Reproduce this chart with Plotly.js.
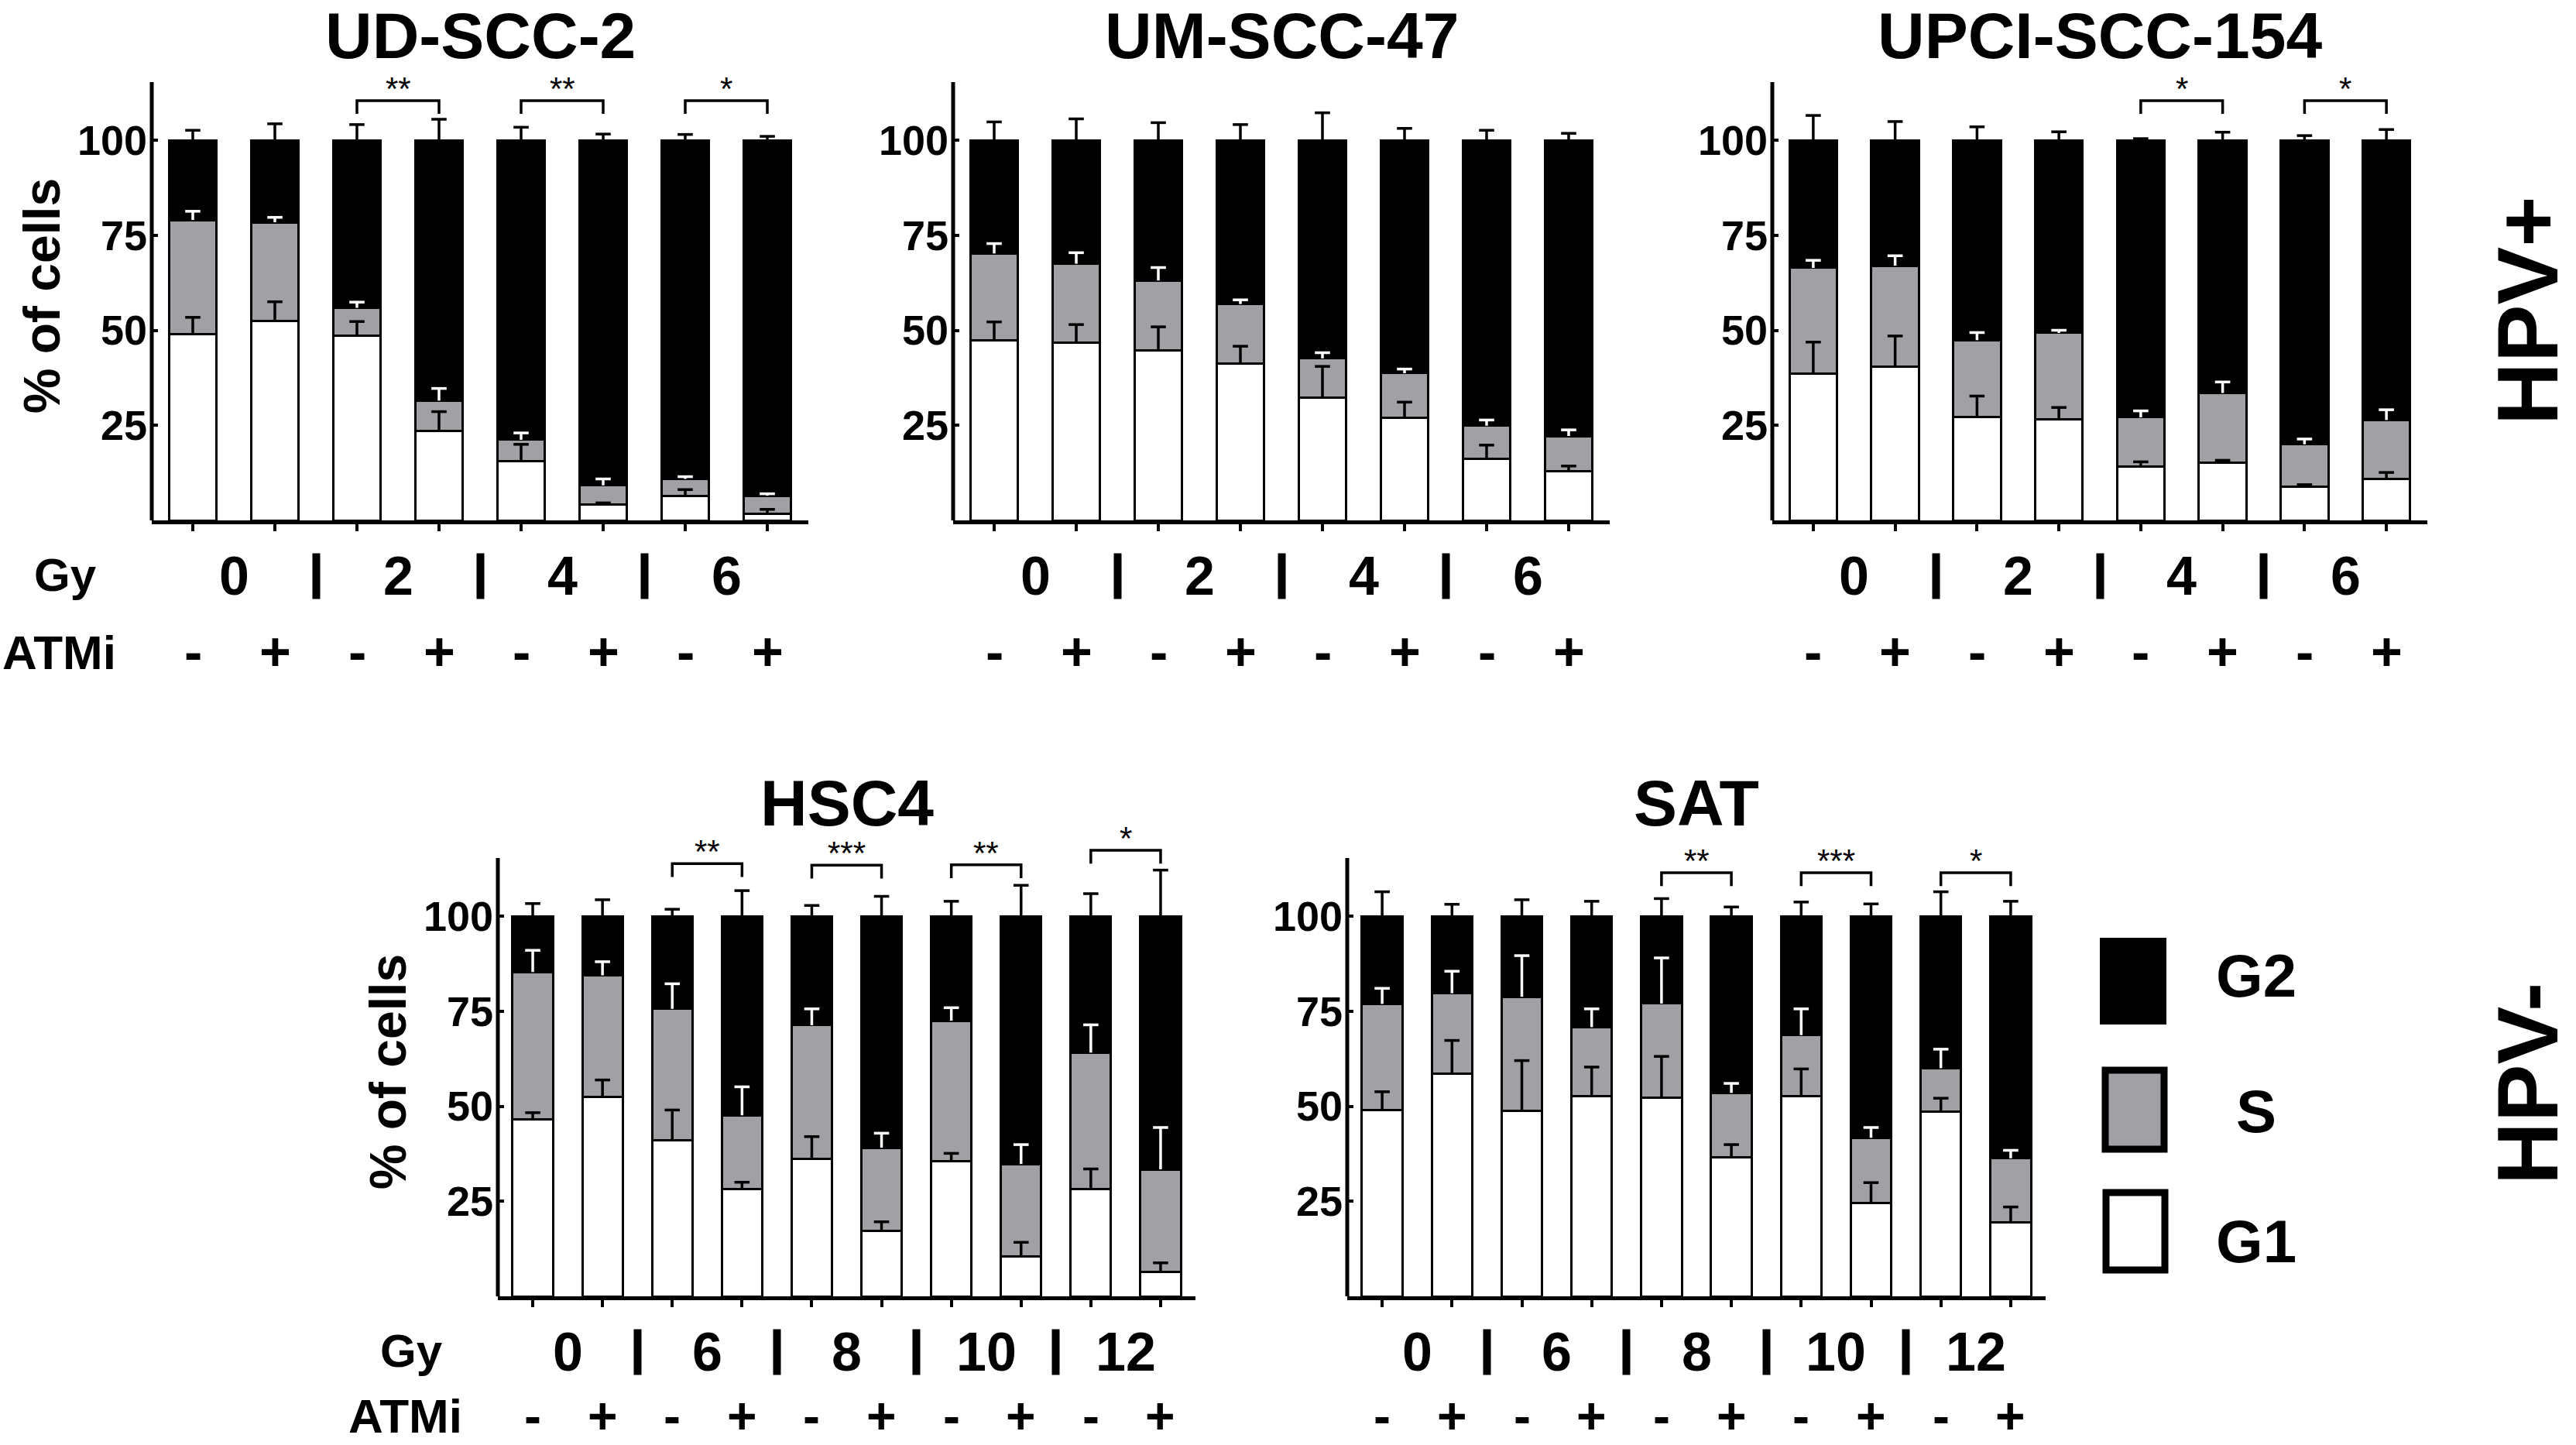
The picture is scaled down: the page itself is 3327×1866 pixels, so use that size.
<!DOCTYPE html>
<html>
<head>
<meta charset="utf-8">
<script src="https://cdn.plot.ly/plotly-3.0.1.min.js"></script>
<style>
  html, body { margin: 0; padding: 0; background: #fff; }
  #chart { width: 3327px; height: 1866px; }
</style>
</head>
<body>
<div id="chart"></div>
<script>
// tick labels / categories
const dosesTop = ["0", "2", "4", "6"];
const dosesBottom = ["0", "6", "8", "10", "12"];
const atmiSigns = ["-", "+"];
const phases = ["G1", "S", "G2"];
const yTicks = [25, 50, 75, 100];

// UD-SCC-2 (% of cells, segment heights and SD)
const udG1 = [49.0, 52.5, 48.5, 23.5, 15.5, 4.1, 6.5, 1.8];
const udS = [30.0, 25.9, 7.4, 8.0, 5.7, 5.1, 4.4, 4.7];
const udG2 = [21.0, 21.6, 44.1, 68.5, 78.8, 90.8, 89.1, 93.5];
const udG1Err = [4.4, 5.0, 3.8, 5.1, 4.5, 0.5, 1.6, 1.1];
const udSErr = [2.3, 1.3, 1.5, 3.2, 1.8, 1.7, 0.6, 0.5];
const udG2Err = [2.6, 4.3, 4.1, 5.5, 3.4, 1.6, 1.5, 1.0];
const udSig = [{ bar: 2, stars: "**" }, { bar: 4, stars: "**" }, { bar: 6, stars: "*" }];

// UM-SCC-47
const umG1 = [47.3, 46.8, 44.7, 41.3, 32.2, 27.0, 16.2, 12.9];
const umS = [22.9, 20.7, 18.4, 15.6, 10.4, 11.7, 8.7, 9.3];
const umG2 = [29.8, 32.5, 36.9, 43.1, 57.4, 61.3, 75.1, 77.8];
const umG1Err = [4.9, 4.7, 6.2, 4.5, 8.3, 4.1, 3.6, 1.4];
const umSErr = [2.6, 2.9, 3.4, 1.1, 1.5, 1.1, 1.5, 1.6];
const umG2Err = [4.8, 5.6, 4.6, 4.1, 7.2, 3.1, 2.6, 1.8];
const umSig = [];

// UPCI-SCC-154
const upG1 = [38.5, 40.5, 27.1, 26.6, 14.1, 15.1, 8.8, 10.9];
const upS = [27.9, 26.5, 20.3, 22.7, 13.0, 18.4, 11.2, 15.5];
const upG2 = [33.6, 33.0, 52.6, 50.7, 72.9, 66.5, 80.0, 73.6];
const upG1Err = [8.4, 8.0, 5.6, 3.1, 1.3, 0.7, 0.6, 1.7];
const upSErr = [2.0, 2.6, 2.0, 0.7, 1.7, 2.9, 1.4, 2.7];
const upG2Err = [6.5, 4.9, 3.5, 2.2, 0.4, 2.1, 1.2, 2.8];
const upSig = [{ bar: 4, stars: "*" }, { bar: 6, stars: "*" }];

// HSC4
const hsG1 = [46.5, 52.5, 41.1, 28.3, 36.1, 17.3, 35.5, 10.5, 28.3, 6.5];
const hsS = [38.8, 31.9, 34.5, 19.3, 35.2, 21.8, 37.0, 24.3, 35.8, 26.9];
const hsG2 = [14.7, 15.6, 24.4, 52.4, 28.7, 60.9, 27.5, 65.2, 35.9, 66.6];
const hsG1Err = [1.8, 4.4, 7.9, 1.7, 5.9, 2.3, 2.1, 3.7, 5.2, 2.3];
const hsSErr = [5.7, 3.6, 6.6, 7.5, 4.3, 3.8, 3.4, 5.1, 7.3, 11.0];
const hsG2Err = [3.3, 4.3, 1.8, 6.7, 2.8, 5.2, 3.9, 8.1, 5.9, 12.1];
const hsSig = [{ bar: 2, stars: "**" }, { bar: 4, stars: "***" }, { bar: 6, stars: "**" }, { bar: 8, stars: "*" }];

// SAT
const saG1 = [49.0, 58.5, 48.8, 52.7, 52.3, 36.6, 52.6, 24.6, 48.6, 19.4];
const saS = [27.9, 21.2, 30.0, 18.1, 24.7, 16.9, 16.1, 17.1, 11.4, 16.9];
const saG2 = [23.1, 20.3, 21.2, 29.2, 23.0, 46.5, 31.3, 58.3, 40.0, 63.7];
const saG1Err = [4.8, 8.8, 13.2, 7.6, 10.8, 3.3, 7.2, 5.3, 3.5, 4.1];
const saSErr = [4.1, 5.8, 10.8, 4.8, 12.0, 2.5, 6.9, 2.7, 5.0, 2.1];
const saG2Err = [6.4, 3.1, 4.3, 3.9, 4.6, 2.4, 3.7, 3.2, 6.4, 3.9];
const saSig = [{ bar: 4, stars: "**" }, { bar: 6, stars: "***" }, { bar: 8, stars: "*" }];

const W = 3327, H = 1866;
const FONT = "Liberation Sans, Arial, sans-serif";
const UNIT = 4.91;      // px per % on the y axes
const YMAX = 124;       // room above the bars for the brackets
const AXIS_TOP = 115.3; // where the drawn y axis line stops
const fillColors = ["#ffffff", "#a1a0a5", "#000000"];
const errColors = ["#000000", "#ffffff", "#000000"];

const panels = [
    { name: "UD-SCC-2", g1: udG1, s: udS, g2: udG2, errs: [udG1Err, udSErr, udG2Err], sig: udSig, doses: dosesTop,
      left: 196, right: 1044, zero: 672, top: true, labels: true, brackets: [110.4, 110.4, 110.4] },
    { name: "UM-SCC-47", g1: umG1, s: umS, g2: umG2, errs: [umG1Err, umSErr, umG2Err], sig: umSig, doses: dosesTop,
      left: 1231, right: 2079, zero: 672, top: true, labels: false, brackets: [] },
    { name: "UPCI-SCC-154", g1: upG1, s: upS, g2: upG2, errs: [upG1Err, upSErr, upG2Err], sig: upSig, doses: dosesTop,
      left: 2289, right: 3135, zero: 672, top: true, labels: false, brackets: [110.4, 110.4] },
    { name: "HSC4", g1: hsG1, s: hsS, g2: hsG2, errs: [hsG1Err, hsSErr, hsG2Err], sig: hsSig, doses: dosesBottom,
      left: 643, right: 1544, zero: 1674, top: false, labels: true, brackets: [113.8, 113.4, 113.5, 117.3] },
    { name: "SAT", g1: saG1, s: saS, g2: saG2, errs: [saG1Err, saSErr, saG2Err], sig: saSig, doses: dosesBottom,
      left: 1740, right: 2642, zero: 1674, top: false, labels: false, brackets: [111.4, 111.4, 111.4] }
];

let traces = [];
let shapes = [];
let annotations = [];
let layout = {
    width: W, height: H,
    margin: { l: 0, r: 0, t: 0, b: 0 },
    paper_bgcolor: "#fff", plot_bgcolor: "rgba(0,0,0,0)",
    barmode: "stack", bargap: 0.42,
    showlegend: false,
    font: { family: FONT, color: "#000", size: 40 }
};

function boldText(text, size) {
    return { text: text, showarrow: false, xanchor: "center", yanchor: "middle",
             font: { family: FONT, size: size, weight: "bold", color: "#000" } };
}

panels.forEach((p, i) => {
    let xa = i ? "x" + (i + 1) : "x";
    let ya = i ? "y" + (i + 1) : "y";
    let idx = p.g1.map((_, k) => k);
    let segs = [p.g1, p.s, p.g2];
    let atmiShift = p.top ? -170 : -154;
    let atmiSize = p.top ? 70 : 66;

    layout[i ? "xaxis" + (i + 1) : "xaxis"] = {
        domain: [p.left / W, p.right / W], anchor: ya,
        range: [-0.5, idx.length - 0.5], tickvals: idx, showticklabels: false,
        ticks: "outside", ticklen: 9, tickwidth: 4, tickcolor: "#000",
        showline: true, linewidth: 5, linecolor: "#000",
        showgrid: false, zeroline: false, fixedrange: true
    };
    layout[i ? "yaxis" + (i + 1) : "yaxis"] = {
        domain: [1 - p.zero / H, 1 - (p.zero - YMAX * UNIT) / H], anchor: xa,
        range: [0, YMAX], tickvals: yTicks,
        ticks: "inside", ticklen: 8, tickwidth: 4, tickcolor: "#000", ticklabelstandoff: 5,
        tickfont: { family: FONT, size: 54, weight: "bold", color: "#000" },
        showline: false, showgrid: false, zeroline: false, fixedrange: true
    };

    // stacked G1 / S / G2 bars
    segs.forEach((seg, j) => {
        traces.push({
            type: "bar", name: phases[j], x: idx, y: seg, xaxis: xa, yaxis: ya,
            marker: { color: fillColors[j], line: { color: "#000", width: 3 } },
            hoverinfo: "skip"
        });
    });

    // one-sided error bars: stem from segment top, cap at top + SD
    let top = idx.map(() => 0);
    segs.forEach((seg, j) => {
        top = top.map((t, k) => t + seg[k]);
        traces.push({
            type: "scatter", mode: "markers", x: idx, y: top.slice(), xaxis: xa, yaxis: ya,
            marker: { size: 1, opacity: 0 }, cliponaxis: false, hoverinfo: "skip",
            error_y: { type: "data", symmetric: false, array: p.errs[j], arrayminus: idx.map(() => 0),
                       color: errColors[j], thickness: 3.5, width: 0 }
        });
        traces.push({
            type: "scatter", mode: "markers", x: idx, y: top.map((t, k) => t + p.errs[j][k]), xaxis: xa, yaxis: ya,
            marker: { symbol: "line-ew", size: 14, color: errColors[j], line: { color: errColors[j], width: 3.5 } },
            cliponaxis: false, hoverinfo: "skip"
        });
    });

    // y axis line, stops short of the brackets
    shapes.push({ type: "line", xref: xa + " domain", yref: ya, x0: 0, x1: 0, y0: 0, y1: AXIS_TOP,
                  line: { color: "#000", width: 5 } });

    // significance brackets
    p.sig.forEach((s, k) => {
        let lvl = p.brackets[k];
        shapes.push({
            type: "path", xref: xa, yref: ya,
            path: "M" + s.bar + "," + (lvl - 3.5) + " V" + lvl + " H" + (s.bar + 1) + " V" + (lvl - 3.5),
            line: { color: "#000", width: 3.5 }
        });
        annotations.push({ text: s.stars, showarrow: false, xref: xa, yref: ya, x: s.bar + 0.5, y: lvl,
                           xanchor: "center", yanchor: "bottom", yshift: -10,
                           font: { family: FONT, size: 42, color: "#000" } });
    });

    // panel title
    let title = boldText(p.name, 84);
    if (p.top) {
        Object.assign(title, { xref: xa + " domain", x: 0.5, yref: "paper", y: 1, yanchor: "top", yshift: 3 });
    } else {
        Object.assign(title, { xref: xa + " domain", x: 0.5, yref: "paper", y: 1 - 1037 / H });
    }
    annotations.push(title);

    // Gy row: dose per pair of bars, separators between pairs
    p.doses.forEach((d, g) => {
        annotations.push(Object.assign(boldText(d, 70), {
            xref: xa, yref: ya, x: 2 * g + 0.5, y: 0, yshift: -72 }));
        if (g < p.doses.length - 1) {
            annotations.push({ text: "&nbsp;", showarrow: false, xref: xa, yref: ya, x: 2 * g + 1.5, y: 0,
                               yshift: -72, xanchor: "center", yanchor: "middle", width: 9, height: 58,
                               borderpad: 0, bgcolor: "#000", font: { size: 2 } });
        }
    });
    // ATMi row
    idx.forEach(k => {
        annotations.push(Object.assign(boldText(atmiSigns[k % 2], atmiSize), {
            xref: xa, yref: ya, x: k, y: 0, yshift: atmiShift }));
    });

    if (p.labels) {
        annotations.push(Object.assign(boldText("Gy", 60), {
            xref: xa + " domain", x: 0, xshift: -112, yref: ya, y: 0, yshift: -70 }));
        annotations.push(Object.assign(boldText("ATMi", 62), {
            xref: xa + " domain", x: 0, xshift: -120, yref: ya, y: 0, yshift: atmiShift }));
        annotations.push(Object.assign(boldText("% of cells", 66), {
            xref: xa + " domain", x: 0, xshift: -142, yref: ya, y: 59, textangle: -90 }));
    }
});

// HPV group labels
annotations.push(Object.assign(boldText("HPV+", 112), {
    xref: "paper", yref: "paper", x: 3264 / W, y: 1 - 401 / H, textangle: -90 }));
annotations.push(Object.assign(boldText("HPV-", 112), {
    xref: "paper", yref: "paper", x: 3264 / W, y: 1 - 1400 / H, textangle: -90 }));

// legend: boxes and labels (G2 on top)
const legendBoxes = [
    { x0: 2720, x1: 2796, y0: 1540, y1: 1640, label: 1603 },
    { x0: 2719, x1: 2795, y0: 1382, y1: 1484, label: 1435 },
    { x0: 2714, x1: 2796, y0: 1213, y1: 1321, label: 1260 }
];
legendBoxes.forEach((b, j) => {
    shapes.push({ type: "rect", xref: "paper", yref: "paper",
                  x0: b.x0 / W, x1: b.x1 / W, y0: 1 - b.y1 / H, y1: 1 - b.y0 / H,
                  fillcolor: fillColors[j], line: { color: "#000", width: j === 2 ? 4 : 9 } });
    annotations.push(Object.assign(boldText(phases[j], 78), {
        xref: "paper", yref: "paper", x: 2914 / W, y: 1 - b.label / H }));
});

layout.shapes = shapes;
layout.annotations = annotations;

Plotly.newPlot("chart", traces, layout, { staticPlot: true });
</script>
</body>
</html>
